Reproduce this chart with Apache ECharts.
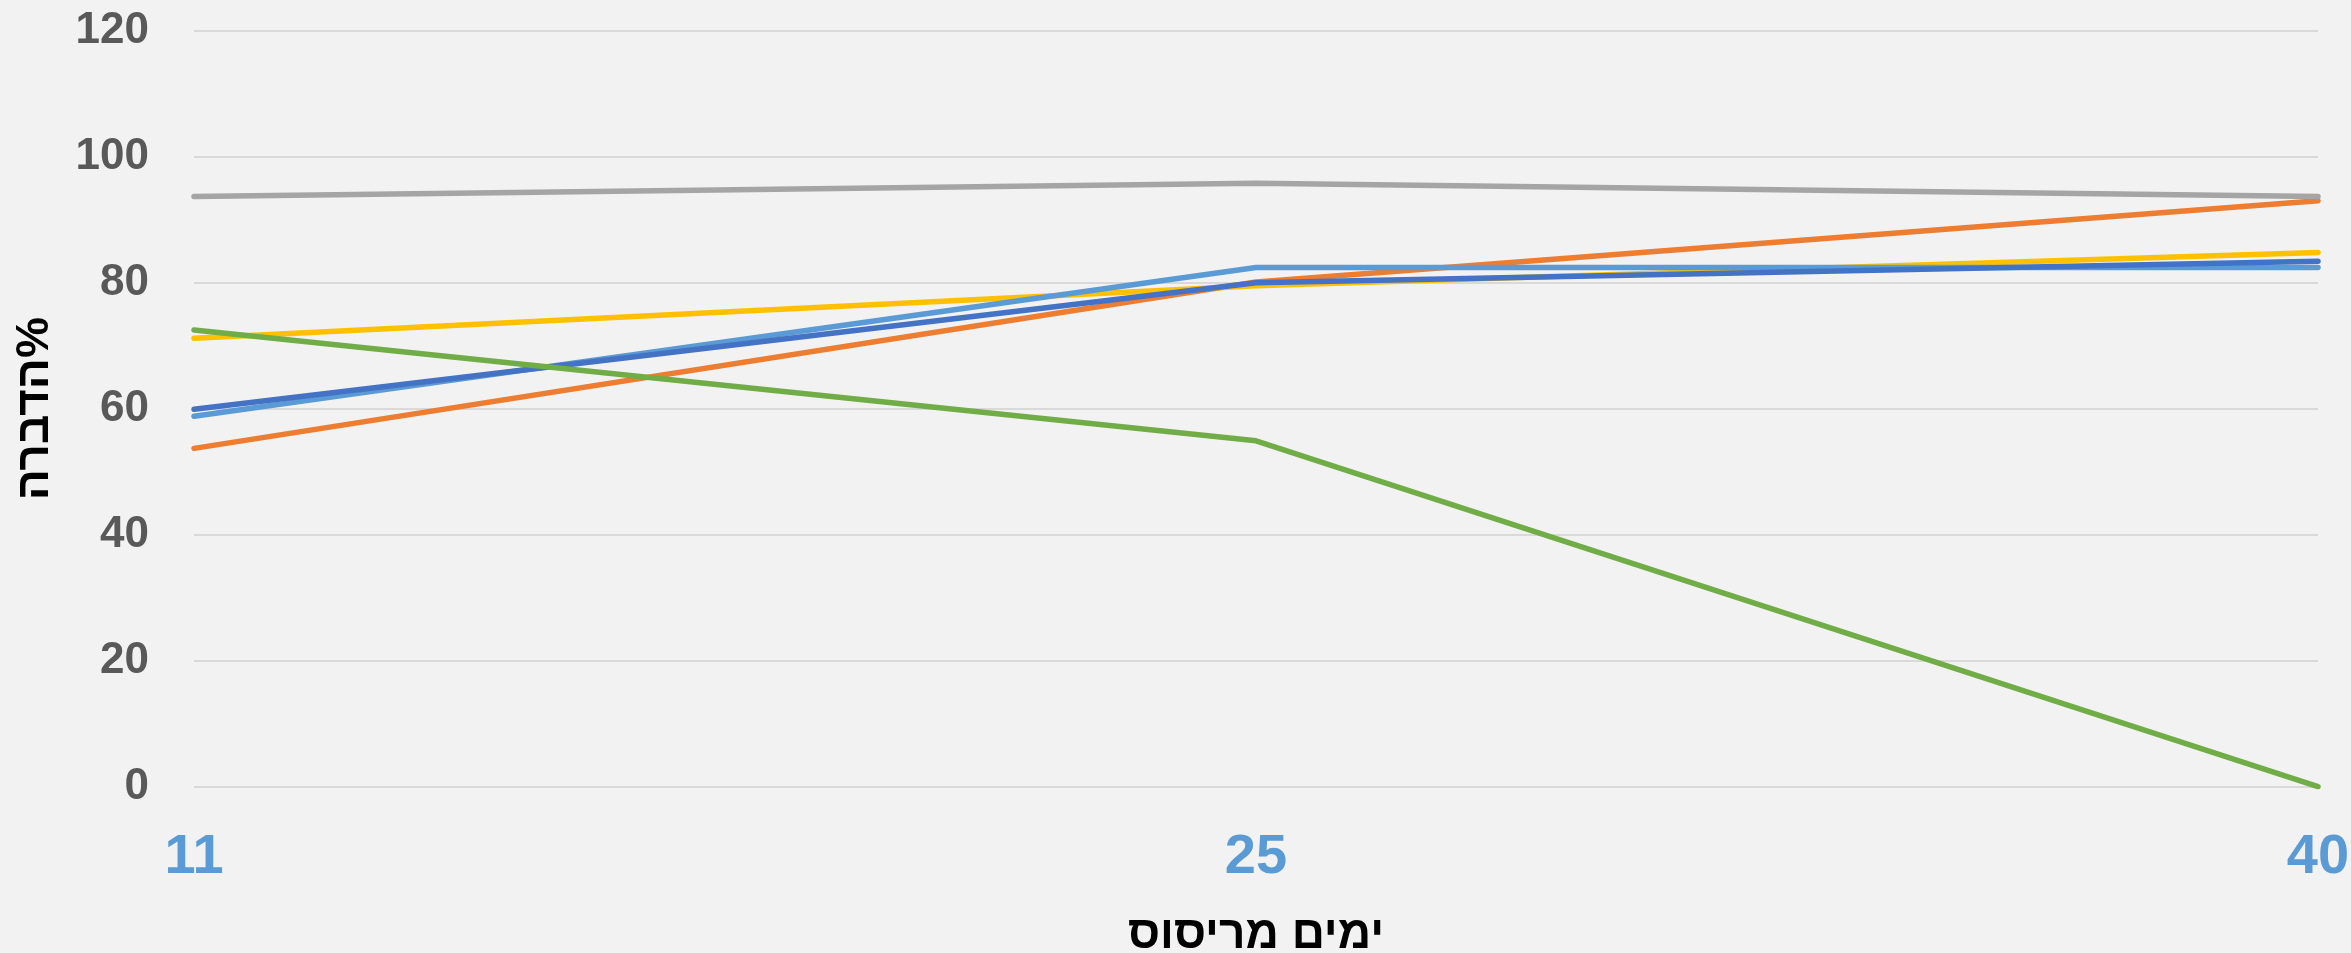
<!DOCTYPE html>
<html>
<head>
<meta charset="utf-8">
<script src="https://cdn.jsdelivr.net/npm/echarts@6/dist/echarts.min.js"></script>
<style>
html,body{margin:0;padding:0;background:#F2F2F2;}
#chart{width:2351px;height:953px;}
</style>
</head>
<body>
<div id="chart"></div>
<script>
const categories = ['11', '25', '40'];
const yTicks = [0, 20, 40, 60, 80, 100, 120];
const orangeVals = [53.7, 80.1, 93.0];
const grayVals = [93.7, 95.8, 93.7];
const yellowVals = [71.2, 79.5, 84.8];
const lightBlueVals = [58.8, 82.4, 82.4];
const darkBlueVals = [59.9, 80.0, 83.4];
const greenVals = [72.5, 54.9, 0];

const FONT = '"Liberation Sans", Arial, "DejaVu Sans", sans-serif';

function mk(name, data, color) {
  return {
    name: name, type: 'line', data: data, showSymbol: false, symbol: 'none',
    lineStyle: { color: color, width: 5.5, cap: 'round', join: 'round' },
    itemStyle: { color: color }, animation: false
  };
}

const chart = echarts.init(document.getElementById('chart'));
chart.setOption({
  backgroundColor: '#F2F2F2',
  animation: false,
  grid: { left: 194, right: 33, top: 30.7, bottom: 166.3, containLabel: false, outerBoundsMode: 'none' },
  xAxis: {
    type: 'category', data: categories, boundaryGap: false,
    axisLine: { show: false }, axisTick: { show: false },
    axisLabel: { color: '#5B9BD5', fontFamily: FONT, fontWeight: 'bold', fontSize: 56, margin: 43 },
    name: 'ימים מריסוס', nameLocation: 'middle', nameGap: 126,
    nameTextStyle: { color: '#000000', fontFamily: FONT, fontWeight: 'bold', fontSize: 46 }
  },
  yAxis: {
    type: 'value', min: yTicks[0], max: yTicks[yTicks.length - 1], interval: 20,
    axisLine: { show: false }, axisTick: { show: false },
    splitLine: { lineStyle: { color: '#D9D9D9', width: 2 } },
    axisLabel: { color: '#595959', fontFamily: FONT, fontWeight: 'bold', fontSize: 44, margin: 45 },
    name: 'הדברה%', nameLocation: 'middle', nameGap: 136, nameRotate: 90,
    nameTextStyle: { color: '#000000', fontFamily: FONT, fontWeight: 'bold', fontSize: 46 }
  },
  series: [
    mk('orange', orangeVals, '#ED7D31'),
    mk('gray', grayVals, '#A5A5A5'),
    mk('yellow', yellowVals, '#FFC000'),
    mk('lightblue', lightBlueVals, '#5B9BD5'),
    mk('darkblue', darkBlueVals, '#4472C4'),
    mk('green', greenVals, '#70AD47')
  ]
});
</script>
</body>
</html>
